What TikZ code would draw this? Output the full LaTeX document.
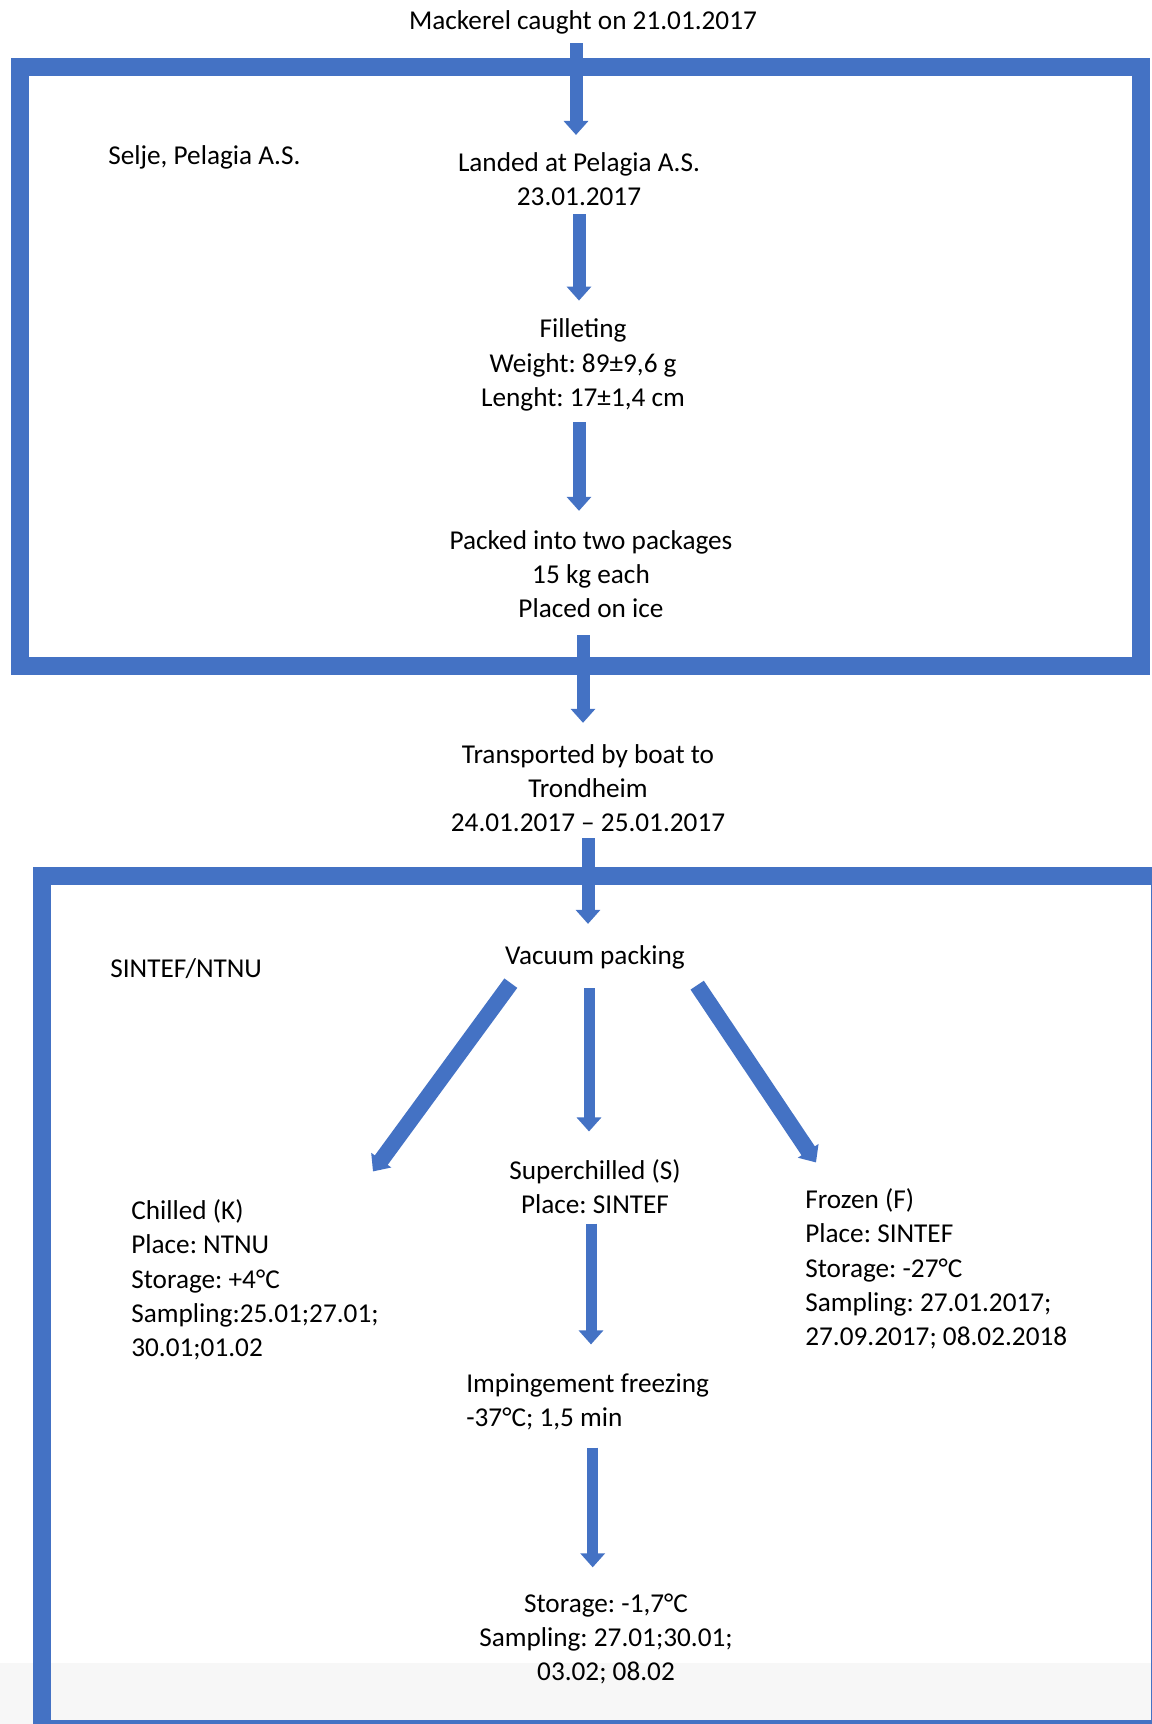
\documentclass[tikz,border=0pt]{standalone}
\usepackage{fontspec}
\setmainfont{Carlito}
\usetikzlibrary{arrows.meta}
\definecolor{officeblue}{HTML}{4472C4}

\begin{document}
\begin{tikzpicture}[x=0.02cm, y=-0.02cm,
  every node/.style={inner sep=0pt,
    font=\fontsize{15.5}{19.5}\selectfont\frenchspacing},
  txt/.style={align=center},
  ltxt/.style={align=left, anchor=west},
  frame/.style={draw=officeblue, line width=0.35cm},
  flow/.style={draw=officeblue, line width=0.26cm,
    -{Triangle[width=0.48cm,length=0.28cm]}}]

  % grey band of the screenshot
  \fill[black!3] (0,1663) rectangle (1152,1724);
  \useasboundingbox (0,0) rectangle (1152,1724);

  % the two site frames
  \draw[frame] (20,67) rectangle (1141,666);
  \draw[frame] (42,876) rectangle (1160,1729);

  \node (caught) at (583,22) {Mackerel caught on 21.01.2017};
  \node[ltxt] (selje) at (108,157) {Selje, Pelagia A.S.};
  \node[txt] (landed) at (579,179) {Landed at Pelagia A.S.\\23.01.2017};
  \node[txt] (fillet) at (583,365)
      {Filleting\\Weight: 89±9,6 g\\Lenght: 17±1,4 cm};
  \node[txt] (packed) at (591,574)
      {Packed into two packages\\15 kg each\\Placed on ice};
  \node[txt] (boat) at (588,788)
      {Transported by boat to\\Trondheim\\24.01.2017 – 25.01.2017};

  \node[ltxt] (sintef) at (110,969) {SINTEF/NTNU};
  \node (vacuum) at (595,957) {Vacuum packing};
  \node[txt] (super) at (595,1187) {Superchilled (S)\\Place: SINTEF};
  \node[ltxt] (chilled) at (131,1280)
      {Chilled (K)\\Place: NTNU\\Storage: +4°C\\Sampling:25.01;27.01;\\30.01;01.02};
  \node[ltxt] (frozen) at (805,1269)
      {Frozen (F)\\Place: SINTEF\\Storage: -27°C\\Sampling: 27.01.2017;\\27.09.2017; 08.02.2018};
  \node[ltxt] (imping) at (466,1402) {Impingement freezing\\-37°C; 1,5 min};
  \node[txt] (stor) at (606,1639)
      {Storage: -1,7°C\\Sampling: 27.01;30.01;\\03.02; 08.02};

  % main chain
  \draw[flow, shorten <=0.18cm, shorten >=0.34cm]
      ([xshift=-0.14cm]caught.south) -- ([xshift=-0.14cm]caught.south |- landed.north);
  \draw[flow, shorten <=0.16cm, shorten >=0.36cm]
      (landed.south) -- (landed.south |- fillet.north);
  \draw[flow, shorten <=0.22cm, shorten >=0.38cm]
      ([xshift=-0.08cm]fillet.south) -- ([xshift=-0.08cm]fillet.south |- packed.north);
  \draw[flow, shorten <=0.34cm, shorten >=0.42cm]
      ([xshift=-0.16cm]packed.south) -- ([xshift=-0.16cm]packed.south |- boat.north);
  \draw[flow, shorten <=0.12cm, shorten >=0.42cm]
      (boat.south) -- (boat.south |- vacuum.north);

  % split into the three groups
  \draw[flow, line width=0.32cm]
      ([xshift=0.12cm,yshift=-0.28cm]vacuum.south west)
      -- ([xshift=-0.12cm,yshift=0.56cm]chilled.north east);
  \draw[flow, line width=0.32cm]
      ([xshift=0.24cm,yshift=-0.32cm]vacuum.south east)
      -- ([xshift=0.22cm,yshift=0.52cm]frozen.north west);
  \draw[flow, line width=0.22cm, shorten <=0.38cm, shorten >=0.56cm]
      ([xshift=-0.12cm]vacuum.south) -- ([xshift=-0.12cm]vacuum.south |- super.north);
  \draw[flow, line width=0.22cm, shorten <=0.18cm, shorten >=0.58cm]
      ([xshift=-0.08cm]super.south) -- ([xshift=-0.08cm]super.south |- imping.north);
  \draw[flow, line width=0.22cm, shorten <=0.34cm, shorten >=0.52cm]
      ([xshift=0.1cm]imping.south) -- ([xshift=0.1cm]imping.south |- stor.north);
\end{tikzpicture}
\end{document}
